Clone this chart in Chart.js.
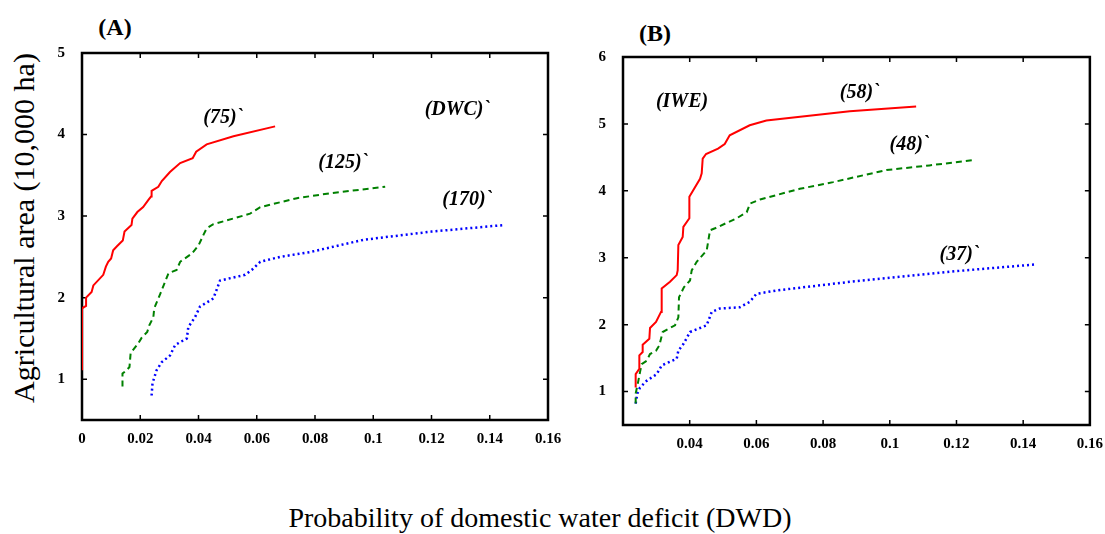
<!DOCTYPE html>
<html>
<head>
<meta charset="utf-8">
<script src="https://cdn.jsdelivr.net/npm/chart.js@4/dist/chart.umd.min.js"></script>
<style>
  body { margin: 0; background: #fff; width: 1105px; height: 534px; position: relative; overflow: hidden; }
  canvas { position: absolute; top: 0; }
  .txt { position: absolute; font-family: "Liberation Serif", "Times New Roman", Times, serif; color: #000; white-space: nowrap; }
  .panel { font-weight: bold; font-size: 24px; transform: translate(-50%, -50%); }
</style>
</head>
<body>
<div class="txt panel" style="left:115px; top:27px;">(A)</div>
<div class="txt panel" style="left:655px; top:33px;">(B)</div>
<div class="txt" style="left:24px; top:228px; font-size:30px; transform: translate(-50%, -50%) rotate(-90deg);">Agricultural area (10,000 ha)</div>
<div class="txt" style="left:540px; top:518px; font-size:28px; transform: translate(-50%, -50%);">Probability of domestic water deficit (DWD)</div>
<div style="position:absolute; left:0; top:0; width:570px; height:460px;"><canvas id="chartA"></canvas></div>
<div style="position:absolute; left:540px; top:0; width:565px; height:460px;"><canvas id="chartB"></canvas></div>
<script>
// panel A (DWC)
var aRedX = [0, 0, 0.0014, 0.0014, 0.0033, 0.0039, 0.0073, 0.0082, 0.009, 0.010, 0.0107, 0.012, 0.014, 0.0146, 0.017, 0.0173, 0.019, 0.021, 0.0228, 0.0237, 0.0239, 0.0262, 0.0274, 0.0302, 0.0337, 0.038, 0.0392, 0.0428, 0.052, 0.0663];
var aRedY = [1.11, 1.87, 1.90, 2.0, 2.07, 2.15, 2.28, 2.38, 2.44, 2.48, 2.58, 2.63, 2.70, 2.81, 2.89, 2.97, 3.05, 3.11, 3.20, 3.24, 3.31, 3.36, 3.43, 3.54, 3.65, 3.71, 3.79, 3.88, 3.98, 4.10];
var aGreenX = [0.0139, 0.0139, 0.0153, 0.0163, 0.0167, 0.0193, 0.0205, 0.0224, 0.0231, 0.0245, 0.0248, 0.0268, 0.0297, 0.0325, 0.0337, 0.0377, 0.04, 0.0417, 0.0428, 0.0451, 0.0577, 0.0612, 0.0738, 0.0852, 0.1041];
var aGreenY = [0.91, 1.07, 1.11, 1.15, 1.32, 1.44, 1.51, 1.58, 1.66, 1.76, 1.87, 2.04, 2.30, 2.34, 2.44, 2.54, 2.64, 2.77, 2.85, 2.90, 3.03, 3.11, 3.22, 3.28, 3.36];
var aBlueX = [0.0239, 0.0242, 0.0256, 0.0274, 0.0302, 0.032, 0.036, 0.0365, 0.0388, 0.0405, 0.0451, 0.0474, 0.056, 0.0583, 0.0612, 0.068, 0.0784, 0.0967, 0.12, 0.1448];
var aBlueY = [0.80, 0.95, 1.11, 1.21, 1.29, 1.42, 1.50, 1.64, 1.76, 1.89, 1.99, 2.21, 2.28, 2.34, 2.44, 2.50, 2.56, 2.71, 2.81, 2.89];

// panel B (IWE)
var bRedX = [0.0238, 0.0238, 0.0249, 0.0249, 0.0259, 0.0259, 0.0279, 0.0281, 0.0299, 0.0314, 0.0316, 0.0341, 0.0361, 0.0364, 0.0366, 0.0379, 0.0381, 0.0399, 0.0399, 0.0431, 0.0436, 0.0439, 0.0449, 0.0485, 0.0505, 0.052, 0.058, 0.063, 0.088, 0.1079];
var bRedY = [1.06, 1.26, 1.34, 1.54, 1.59, 1.70, 1.79, 1.95, 2.04, 2.19, 2.54, 2.64, 2.74, 2.81, 3.19, 3.31, 3.46, 3.59, 3.91, 4.18, 4.26, 4.48, 4.55, 4.63, 4.70, 4.83, 4.98, 5.05, 5.19, 5.26];
var bGreenX = [0.0238, 0.0238, 0.0246, 0.0251, 0.0256, 0.0271, 0.0281, 0.0299, 0.0309, 0.0319, 0.0356, 0.0366, 0.0368, 0.0383, 0.0401, 0.0406, 0.0421, 0.0451, 0.0461, 0.0476, 0.0541, 0.0571, 0.0581, 0.0611, 0.073, 0.083, 0.099, 0.1119, 0.1254];
var bGreenY = [0.82, 0.97, 1.16, 1.29, 1.41, 1.46, 1.56, 1.61, 1.69, 1.89, 1.99, 2.11, 2.41, 2.56, 2.66, 2.81, 2.94, 3.11, 3.41, 3.44, 3.59, 3.68, 3.81, 3.87, 4.03, 4.13, 4.31, 4.38, 4.46];
var bBlueX = [0.0238, 0.0243, 0.0251, 0.0271, 0.0301, 0.0316, 0.0361, 0.0366, 0.0381, 0.0401, 0.0451, 0.0466, 0.049, 0.055, 0.058, 0.06, 0.066, 0.088, 0.12, 0.1439];
var bBlueY = [0.82, 0.97, 1.06, 1.16, 1.26, 1.39, 1.49, 1.61, 1.71, 1.89, 1.99, 2.19, 2.24, 2.26, 2.34, 2.46, 2.51, 2.64, 2.80, 2.90];

// ticks
var xTicksA = [0, 0.02, 0.04, 0.06, 0.08, 0.1, 0.12, 0.14, 0.16];
var xLabelsA = ['0', '0.02', '0.04', '0.06', '0.08', '0.1', '0.12', '0.14', '0.16'];
var yTicksA = [1, 2, 3, 4, 5];
var xTicksB = [0.02, 0.04, 0.06, 0.08, 0.1, 0.12, 0.14, 0.16];
var xLabelsB = ['', '0.04', '0.06', '0.08', '0.1', '0.12', '0.14', '0.16'];
var yTicksB = [1, 2, 3, 4, 5, 6];

// curve labels (text, x, y in data units)
var notesA = [['(75)`', 0.0485, 4.21], ['(125)`', 0.0897, 3.65], ['(170)`', 0.1323, 3.20], ['(DWC)`', 0.1289, 4.30]];
var notesB = [['(IWE)', 0.0377, 5.33], ['(58)`', 0.0910, 5.46], ['(48)`', 0.1059, 4.68], ['(37)`', 0.1209, 3.04]];

var SERIF = '"Liberation Serif", "Times New Roman", Times, serif';

function pts(xs, ys) {
    return xs.map(function (x, i) { return { x: x, y: ys[i] }; });
}

// box with inward ticks on all four sides, drawn under the curves
var framePlugin = {
    id: 'frame',
    beforeDatasetsDraw: function (chart) {
        var ctx = chart.ctx, a = chart.chartArea;
        var xs = chart.scales.x, ys = chart.scales.y;
        ctx.save();
        ctx.strokeStyle = '#000';
        ctx.lineWidth = 2.5;
        ctx.strokeRect(a.left, a.top, a.right - a.left, a.bottom - a.top);
        ctx.lineWidth = 1.5;
        ctx.beginPath();
        xs.ticks.forEach(function (t) {
            var px = xs.getPixelForValue(t.value);
            ctx.moveTo(px, a.bottom); ctx.lineTo(px, a.bottom - 5);
            ctx.moveTo(px, a.top); ctx.lineTo(px, a.top + 5);
        });
        ys.ticks.forEach(function (t) {
            var py = ys.getPixelForValue(t.value);
            ctx.moveTo(a.left, py); ctx.lineTo(a.left + 5, py);
            ctx.moveTo(a.right, py); ctx.lineTo(a.right - 5, py);
        });
        ctx.stroke();
        ctx.restore();
    },
    afterDraw: function (chart, args, opts) {
        var ctx = chart.ctx, xs = chart.scales.x, ys = chart.scales.y;
        ctx.save();
        ctx.fillStyle = '#000';
        ctx.font = 'italic bold 20px ' + SERIF;
        ctx.textAlign = 'center';
        ctx.textBaseline = 'middle';
        (opts.notes || []).forEach(function (n) {
            ctx.fillText(n[0], xs.getPixelForValue(n[1]), ys.getPixelForValue(n[2]));
        });
        ctx.restore();
    }
};

function makeChart(id, series, xmin, xmax, ymax, xTicks, xLabels, yTicks, notes, yWidth, pad, xHeight) {
    var tickFont = { family: SERIF, size: 15, weight: 'bold' };
    return new Chart(document.getElementById(id).getContext('2d'), {
        type: 'scatter',
        data: {
            datasets: [
                { data: pts(series[0], series[1]), showLine: true, borderColor: '#ff0000', borderWidth: 2, pointRadius: 0, tension: 0 },
                { data: pts(series[2], series[3]), showLine: true, borderColor: '#008000', borderWidth: 2, borderDash: [6, 4], pointRadius: 0, tension: 0 },
                { data: pts(series[4], series[5]), showLine: true, borderColor: '#0000ff', borderWidth: 2.5, borderDash: [2, 3], pointRadius: 0, tension: 0 }
            ]
        },
        options: {
            responsive: true,
            maintainAspectRatio: false,
            animation: false,
            layout: { padding: pad },
            plugins: { legend: { display: false }, tooltip: { enabled: false }, frame: { notes: notes } },
            scales: {
                x: {
                    type: 'linear', min: xmin, max: xmax,
                    grid: { display: false }, border: { display: false },
                    afterBuildTicks: function (s) { s.ticks = xTicks.map(function (v) { return { value: v }; }); },
                    afterFit: function (s) { s.height = xHeight; },
                    ticks: { color: '#000', font: tickFont, padding: 2, maxRotation: 0,
                        callback: function (v, i) { return xLabels[i]; } }
                },
                y: {
                    type: 'linear', min: 0.5, max: ymax,
                    grid: { display: false }, border: { display: false },
                    afterBuildTicks: function (s) { s.ticks = yTicks.map(function (v) { return { value: v }; }); },
                    afterFit: function (s) { s.width = yWidth; },
                    ticks: { color: '#000', font: tickFont, padding: 9,
                        callback: function (v) { return String(v); } }
                }
            }
        },
        plugins: [framePlugin]
    });
}

makeChart('chartA', [aRedX, aRedY, aGreenX, aGreenY, aBlueX, aBlueY], 0, 0.16, 5,
    xTicksA, xLabelsA, yTicksA, notesA, 82, { top: 53, right: 22, bottom: 0, left: 0 }, 40);
makeChart('chartB', [bRedX, bRedY, bGreenX, bGreenY, bBlueX, bBlueY], 0.02, 0.16, 6,
    xTicksB, xLabelsB, yTicksB, notesB, 83, { top: 57, right: 15, bottom: 0, left: 0 }, 35);
</script>
</body>
</html>
